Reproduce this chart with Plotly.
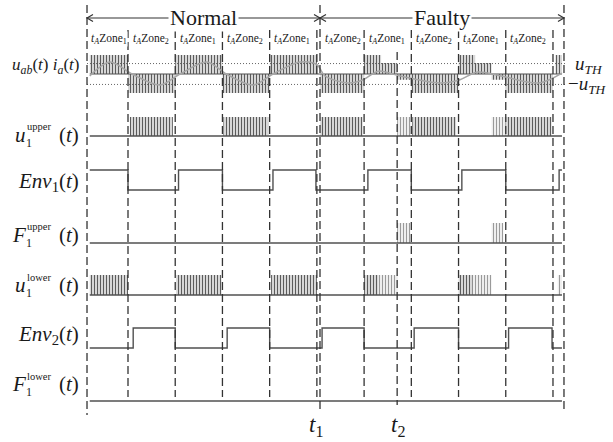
import plotly.graph_objects as go

W, H = 613, 442
FONT = "Liberation Serif, Times New Roman, serif"

# ------------------------------------------------------------------ data
zone_bounds = [0, 1, 2, 3, 4, 5, 6, 7, 8, 9]          # zone boundaries (time in zone units)
t_start, t_end = -0.868, 9.233                        # window edges
sig_start, sig_end = -0.81, 9.19                      # signal extent
t1, t2 = 4.066, 5.70                                  # fault instants

phase_names = ["Normal", "Faulty"]
phase_spans = [(t_start, t1), (t1, t_end)]

zone_label_pos = [-0.868, 0, 1, 2, 3, 4.066, 5, 6, 7, 8]
zone_label_ids = [1, 2, 1, 2, 1, 2, 1, 2, 1, 2]

# phase current i_a(t) samples
ia_t = [-0.81, -0.38, 0.085, 0.68, 1.1, 1.67, 2.08, 2.65, 3.07, 3.64, 4.0,
        4.17, 4.66, 4.98, 5.3, 5.76, 6.6, 7.03, 7.4, 7.9, 8.7, 9.19]
ia_v = [-0.1, 0.63, 0.0, -0.58, 0.0, 0.63, 0.0, -0.58, 0.0, 0.63, 0.5,
        -0.1, -0.47, -0.3, 0.15, -0.1, -0.47, -0.3, 0.1, -0.1, -0.47, 0.05]
u_th = 0.55

# pulse blocks: start, end, low level, high level, style
uab_blocks = [
    (-0.81, 0.0, 0, 1, "dense"), (0.0, 1.0, -1, 0, "dense"), (1.0, 2.0, 0, 1, "dense"),
    (2.0, 3.0, -1, 0, "dense"), (3.0, 4.0, 0, 1, "dense"),
    (4.07, 5.0, -1, 0, "dense"), (5.0, 5.36, 0, 1, "dense"), (5.36, 5.70, 0, 0.58, "dense"),
    (5.70, 6.0, -0.3, 0, "dense"), (6.0, 7.0, -1, 0, "dense"), (7.0, 7.35, 0, 1, "dense"),
    (7.35, 7.70, 0, 0.58, "dense"), (7.70, 8.0, -0.3, 0, "dense"), (8.0, 9.0, -1, 0, "dense"),
    (9.05, 9.19, 0, 1, "dense"),
]
u1up_blocks = [
    (0.04, 0.95, 0, 1, "dense"), (2.02, 2.97, 0, 1, "dense"), (4.07, 4.97, 0, 1, "dense"),
    (5.70, 6.0, 0, 1, "light"), (6.02, 6.95, 0, 1, "dense"), (7.70, 8.0, 0, 1, "light"),
    (8.0, 8.97, 0, 1, "dense"),
]
f1up_blocks = [(5.70, 5.98, 0, 1, "light"), (7.70, 7.95, 0, 1, "light")]
u1lo_blocks = [
    (-0.81, 0.0, 0, 1, "dense"), (1.02, 1.98, 0, 1, "dense"), (3.03, 4.0, 0, 1, "dense"),
    (5.0, 5.3, 0, 1, "dense"), (5.3, 5.70, 0, 1, "light"), (7.0, 7.3, 0, 1, "dense"),
    (7.3, 7.70, 0, 1, "light"), (9.1, 9.19, 0, 1, "light"),
]

env1_t = [-0.81, 0.0, 1.07, 2.0, 3.07, 3.98, 5.08, 6.0, 7.07, 8.0, 9.13, 9.19]
env1_v = [1, 0, 1, 0, 1, 0, 1, 0, 1, 0, 1, 1]
env2_t = [-0.81, 0.11, 1.0, 2.1, 3.0, 4.11, 5.0, 6.06, 7.0, 8.06, 8.98, 9.19]
env2_v = [0, 1, 0, 1, 0, 1, 0, 1, 0, 1, 0, 0]

# ------------------------------------------------------------------ layout helpers
PX0, PXZ = 128.0, 47.22            # pixel of t=0, pixels per zone
x_range = [-PX0 / PXZ, (W - PX0) / PXZ]


def dt(p):
    return p / PXZ


def py(p):
    return 1 - p / H


def px(p):
    return p / W


# rows: (zero pixel, px per unit, lo, hi)
rows = [(74, 19, -1.6, 1.6), (136, 19, -0.3, 1.3), (190, 20, -0.3, 1.3), (243, 20, -0.3, 1.3),
        (295, 20, -0.3, 1.3), (348, 20, -0.3, 1.3), (401, 20, -0.3, 1.3)]

layout_axes = {}
for i, (c, s, lo, hi) in enumerate(rows, start=1):
    name = "yaxis" if i == 1 else f"yaxis{i}"
    layout_axes[name] = dict(domain=[py(c - lo * s), py(c - hi * s)], range=[lo, hi],
                             visible=False, fixedrange=True, anchor="x")

fig = go.Figure()
SIG = "#505050"
styles = {"dense": dict(fg="#5c5c5c", size=3, sol=0.5),
          "light": dict(fg="#9a9a9a", size=3, sol=0.45)}


def yref(i):
    return "y" if i == 1 else f"y{i}"


def add_blocks(blocks, row):
    for st in styles:
        xs, ys = [], []
        for a, b, lo, hi, s in blocks:
            if s != st:
                continue
            xs += [a, a, b, b, a, None]
            ys += [lo, hi, hi, lo, lo, None]
        if not xs:
            continue
        fig.add_trace(go.Scatter(
            x=xs, y=ys, mode="lines", fill="toself", line=dict(width=0),
            fillcolor="rgba(255,255,255,0)",
            fillpattern=dict(shape="|", size=styles[st]["size"], solidity=styles[st]["sol"],
                             fgcolor=styles[st]["fg"], fgopacity=1, fillmode="replace",
                             bgcolor="rgba(255,255,255,0)"),
            yaxis=yref(row), hoverinfo="skip", showlegend=False))


def add_line(xs, ys, row, shape="linear", color=SIG, width=1.4, dash=None, smoothing=None):
    line = dict(color=color, width=width, shape=shape)
    if dash:
        line["dash"] = dash
    if smoothing is not None:
        line["smoothing"] = smoothing
    fig.add_trace(go.Scatter(x=xs, y=ys, mode="lines", line=line, yaxis=yref(row),
                             hoverinfo="skip", showlegend=False))


# row 1: u_ab and i_a
add_blocks(uab_blocks, 1)
add_line([sig_start, sig_end], [0, 0], 1, color="#505050", width=1.2)
add_line([t_start, sig_end + dt(5)], [u_th, u_th], 1, color="#666", width=1, dash="1px,2px")
add_line([t_start, sig_end + dt(5)], [-u_th, -u_th], 1, color="#666", width=1, dash="1px,2px")
add_line(ia_t, ia_v, 1, shape="spline", color="#a6a6a6", width=1.5, smoothing=0.9)

# row 2: u1 upper
add_blocks(u1up_blocks, 2)
add_line([sig_start, sig_end], [0, 0], 2)
# row 3: Env1
add_line(env1_t, env1_v, 3, shape="hv")
# row 4: F1 upper
add_blocks(f1up_blocks, 4)
add_line([sig_start, sig_end], [0, 0], 4)
# row 5: u1 lower
add_blocks(u1lo_blocks, 5)
add_line([sig_start, sig_end], [0, 0], 5)
# row 6: Env2
add_line(env2_t, env2_v, 6, shape="hv")
# row 7: F1 lower
add_line([sig_start, sig_end], [0, 0], 7)

# ------------------------------------------------------------------ shapes
shapes = []
DASH = "8px,4px"
LC = "#333333"
for zb in zone_bounds:
    shapes.append(dict(type="line", xref="x", yref="paper", x0=zb, x1=zb, y0=py(30), y1=py(397),
                       line=dict(color=LC, width=1.3, dash=DASH)))
for tv, ytop, ybot in [(t_start, 5, 415), (t1, 5, 413), (t_end, 5, 413), (t2, 52, 405)]:
    shapes.append(dict(type="line", xref="x", yref="paper", x0=tv, x1=tv, y0=py(ytop), y1=py(ybot),
                       line=dict(color=LC, width=1.3, dash=DASH)))

# header arrows
HY = 18
for (a, b) in phase_spans:
    shapes.append(dict(type="line", xref="x", yref="paper", x0=a, x1=b, y0=py(HY), y1=py(HY),
                       line=dict(color=LC, width=1.2)))
    for end, sgn in [(a, 1), (b, -1)]:
        shapes.append(dict(type="path", xref="x", yref="paper",
                           path=f"M {end + sgn*dt(6)},{py(HY-3.5)} L {end},{py(HY)} L {end + sgn*dt(6)},{py(HY+3.5)}",
                           line=dict(color=LC, width=1.2)))

annotations = []
TXT = "#1a1a1a"
for name, (a, b) in zip(phase_names, phase_spans):
    annotations.append(dict(x=(a + b) / 2, y=py(HY), xref="x", yref="paper", text=name,
                            xanchor="center", yanchor="middle",
                            showarrow=False, bgcolor="white", borderpad=1,
                            font=dict(family=FONT, size=22, color=TXT)))

for pos, zid in zip(zone_label_pos, zone_label_ids):
    off = dt(2.5) if pos == zone_label_pos[0] else dt(3.5)
    annotations.append(dict(x=pos + off, y=py(39), xref="x", yref="paper", xanchor="left",
                            yanchor="middle",
                            text=f"<i>t</i><sub><i>A</i></sub>Zone<sub>{zid}</sub>",
                            showarrow=False, bgcolor="white", borderpad=0,
                            font=dict(family=FONT, size=11.5, color=TXT)))

# t1, t2 labels
for tv, lab, sh in [(t1, "1", -4), (t2, "2", 1)]:
    annotations.append(dict(x=tv, y=py(426), xref="x", yref="paper", xshift=sh,
                            xanchor="center", yanchor="middle",
                            text=f"<i>t</i><sub>{lab}</sub>", showarrow=False,
                            font=dict(family=FONT, size=23, color=TXT)))

# u_TH labels
annotations.append(dict(x=px(573), y=py(65), xref="paper", yref="paper", xanchor="left",
                        yanchor="middle",
                        text="<i>u</i><sub><i>TH</i></sub>", showarrow=False,
                        font=dict(family=FONT, size=19, color=TXT)))
annotations.append(dict(x=px(566), y=py(85), xref="paper", yref="paper", xanchor="left",
                        yanchor="middle",
                        text="\u2212<i>u</i><sub><i>TH</i></sub>", showarrow=False,
                        font=dict(family=FONT, size=19, color=TXT)))


def ann(xp, yp, text, size, anchor="right"):
    annotations.append(dict(x=px(xp), y=py(yp), xref="paper", yref="paper", xanchor=anchor,
                            yanchor="middle", text=text, showarrow=False, borderpad=0,
                            font=dict(family=FONT, size=size, color=TXT)))


ann(80, 66, "<i>u</i><sub><i>ab</i></sub>(<i>t</i>) <i>i</i><sub><i>a</i></sub>(<i>t</i>)", 17)
ann(80, 182, "<i>Env</i><sub>1</sub>(<i>t</i>)", 21)
ann(80, 335, "<i>Env</i><sub>2</sub>(<i>t</i>)", 21)
for letter, word, cy in [("u", "upper", 135), ("F", "upper", 235), ("u", "lower", 285), ("F", "lower", 384)]:
    ann(27, cy, f"<i>{letter}</i>", 21)
    ann(25, cy + 8, "1", 12, anchor="left")
    ann(26, cy - 8, word, 10.5, anchor="left")
    ann(80, cy, "(<i>t</i>)", 21)

fig.update_layout(
    width=W, height=H, margin=dict(l=0, r=0, t=0, b=0),
    paper_bgcolor="white", plot_bgcolor="white", showlegend=False,
    xaxis=dict(range=x_range, visible=False, fixedrange=True, domain=[0, 1]),
    shapes=shapes, annotations=annotations, **layout_axes,
)
fig.write_html("out.html")
